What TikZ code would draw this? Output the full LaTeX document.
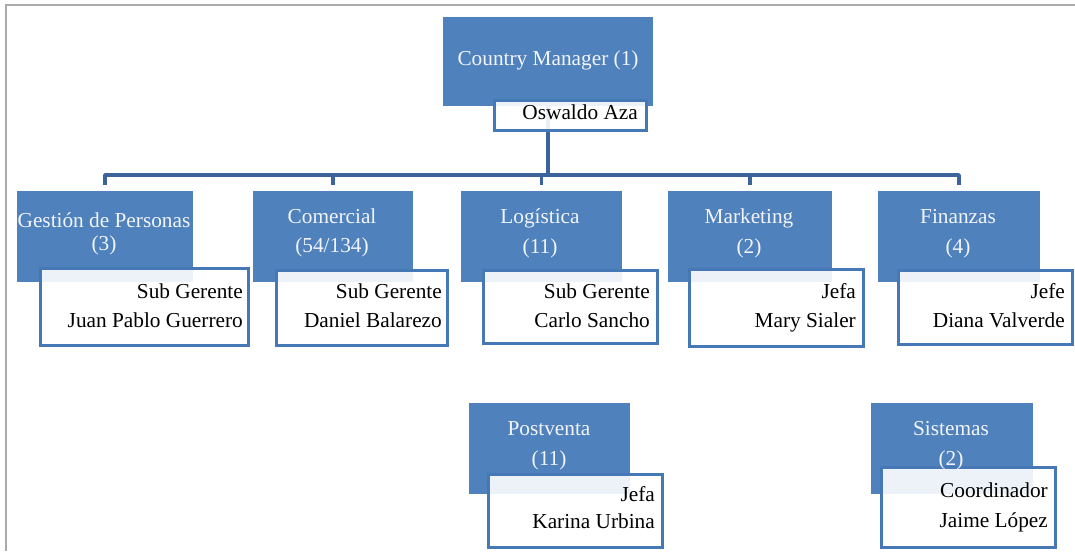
\documentclass[tikz,border=0pt]{standalone}
\usepackage{fontspec}
\setmainfont{Liberation Serif}
\definecolor{boxblue}{RGB}{79,129,189}
\definecolor{edgeblue}{RGB}{70,120,182}
\definecolor{connblue}{RGB}{60,100,154}
\definecolor{framegray}{RGB}{170,170,170}
\definecolor{headwhite}{RGB}{242,244,248}
\tikzset{
  bluebox/.style={fill=boxblue, draw=none, anchor=north west, inner sep=0pt, outer sep=0pt},
  namebox/.style={fill=white, fill opacity=0.9, draw=edgeblue, line width=3pt, anchor=north west, inner sep=0pt, outer sep=0pt},
  headtext/.style={text=headwhite, anchor=base, inner sep=0pt, font=\fontsize{21.3}{25}\selectfont},
  nametext/.style={text=black, anchor=base east, inner sep=0pt, font=\fontsize{21.3}{25}\selectfont},
  conn/.style={draw=connblue, line width=3.5pt, line join=round},
}
\begin{document}
\begin{tikzpicture}[x=1pt,y=-1pt]
\useasboundingbox (0,0) rectangle (1075,551);
% frame
\draw[framegray, line width=2.4pt] (6,551) -- (6,5) -- (1075,5);

% blue boxes
\node[bluebox, minimum width=210pt, minimum height=89pt] (cm) at (443,17) {};
\node[bluebox, minimum width=176pt, minimum height=91pt] (gp) at (17,191) {};
\node[bluebox, minimum width=160pt, minimum height=91pt] (co) at (253,191) {};
\node[bluebox, minimum width=161pt, minimum height=91pt] (lo) at (461,191) {};
\node[bluebox, minimum width=164pt, minimum height=91pt] (ma) at (668,191) {};
\node[bluebox, minimum width=162pt, minimum height=91pt] (fi) at (878,191) {};
\node[bluebox, minimum width=161pt, minimum height=91pt] (pv) at (469,403) {};
\node[bluebox, minimum width=162pt, minimum height=91pt] (si) at (871,403) {};

% connectors
\coordinate (bar) at (0,175);
\draw[conn] (cm.south) -- (cm.south |- bar);
\draw[conn] ([yshift=6pt]gp.north) -- (gp.north |- bar) -- (fi.north |- bar) -- ([yshift=6pt]fi.north);
\foreach \n in {co,lo,ma} \draw[conn] (\n.north |- bar) -- ([yshift=6pt]\n.north);

% name boxes
\node[namebox, minimum width=152pt, minimum height=30pt] (cmw) at (494,100) {};
\node[namebox, minimum width=208pt, minimum height=77pt] (gpw) at (40,268) {};
\node[namebox, minimum width=171pt, minimum height=75pt] (cow) at (276,270) {};
\node[namebox, minimum width=174pt, minimum height=73pt] (low) at (483,270) {};
\node[namebox, minimum width=174pt, minimum height=77pt] (maw) at (689,269) {};
\node[namebox, minimum width=174pt, minimum height=74pt] (fiw) at (898,270) {};
\node[namebox, minimum width=174pt, minimum height=73pt] (pvw) at (488,474) {};
\node[namebox, minimum width=174pt, minimum height=80pt] (siw) at (881,467) {};

% head texts
\node[headtext] (cmt) at (548,65) {Country Manager (1)};
\node[headtext] (gpt1) at (104,227) {Gestión de Personas};
\node[headtext] (gpt2) at (104,250) {(3)};
\node[headtext] (cot1) at (332,223) {Comercial};
\node[headtext] (cot2) at (332,252) {(54/134)};
\node[headtext] (lot1) at (540,223) {Logística};
\node[headtext] (lot2) at (540,253) {(11)};
\node[headtext] (mat1) at (749,223) {Marketing};
\node[headtext] (mat2) at (749,253) {(2)};
\node[headtext] (fit1) at (958,223) {Finanzas};
\node[headtext] (fit2) at (958,253) {(4)};
\node[headtext] (pvt1) at (549,435) {Postventa};
\node[headtext] (pvt2) at (549,465) {(11)};
\node[headtext] (sit1) at (951,435) {Sistemas};
\node[headtext] (sit2) at (951,465) {(2)};

% name texts
\node[nametext] (cmn) at (638,119) {Oswaldo Aza};
\node[nametext] (gpn1) at (243,298) {Sub Gerente};
\node[nametext] (gpn2) at (243,327) {Juan Pablo Guerrero};
\node[nametext] (con1) at (442,298) {Sub Gerente};
\node[nametext] (con2) at (442,327) {Daniel Balarezo};
\node[nametext] (lon1) at (650,298) {Sub Gerente};
\node[nametext] (lon2) at (650,327) {Carlo Sancho};
\node[nametext] (man1) at (856,298) {Jefa};
\node[nametext] (man2) at (856,327) {Mary Sialer};
\node[nametext] (fin1) at (1065,298) {Jefe};
\node[nametext] (fin2) at (1065,327) {Diana Valverde};
\node[nametext] (pvn1) at (655,501) {Jefa};
\node[nametext] (pvn2) at (655,528) {Karina Urbina};
\node[nametext] (sin1) at (1048,497) {Coordinador};
\node[nametext] (sin2) at (1048,527) {Jaime López};
\end{tikzpicture}
\end{document}
